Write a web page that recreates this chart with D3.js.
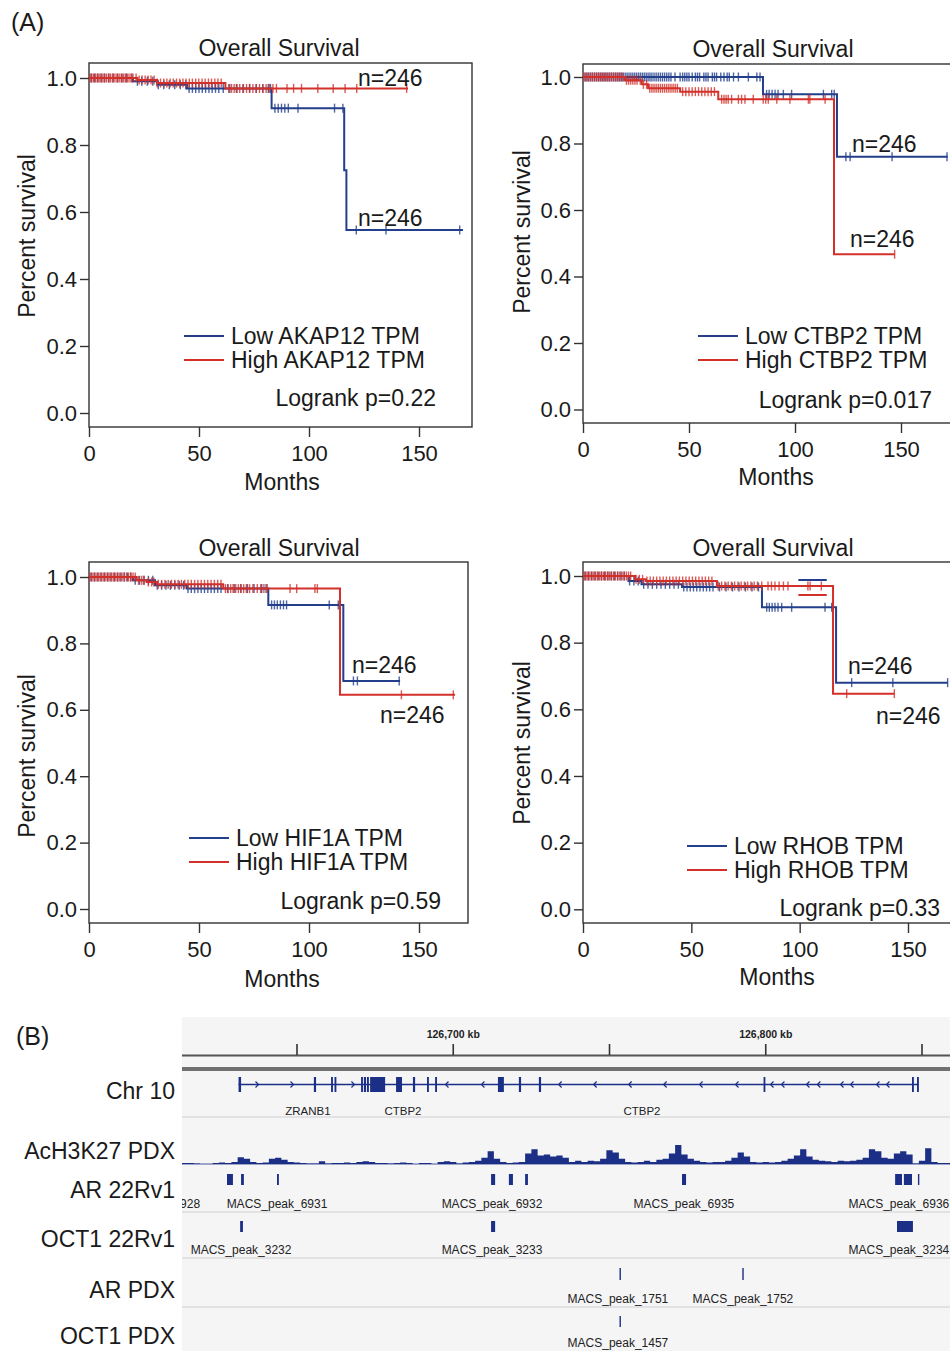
<!DOCTYPE html>
<html>
<head>
<meta charset="utf-8">
<script src="https://cdn.jsdelivr.net/npm/d3@7"></script>
<style>
  body { margin: 0; background: #fff; }
  text { font-family: "Liberation Sans", Arial, Helvetica, sans-serif; }
</style>
</head>
<body>
<div id="fig"></div>
<script>
// ---------- Panel A data (Kaplan-Meier) ----------
// steps: [months, survival]; end: last follow-up month; censor: months of censor marks
var monthTicks = [0, 50, 100, 150];
var survTicks = [0, 0.2, 0.4, 0.6, 0.8, 1.0];
var genes = ["AKAP12", "CTBP2", "HIF1A", "RHOB"];
var pValues = ["0.22", "0.017", "0.59", "0.33"];

var akapLowSteps = [[0, 1], [20, 0.99], [31, 0.98], [44.5, 0.969], [83, 0.91], [116, 0.725], [117, 0.546]];
var akapLowEnd = 170;
var akapLowCensor = [1, 2.5, 4, 5.5, 7, 9, 11, 13, 15, 17, 19.5, 22, 24, 26.5, 29, 31.5, 34, 36.5, 39, 41.5, 44,
  45.5, 47, 48.5, 50, 51.5, 53, 54.5, 56, 57.5, 59, 61, 64, 67, 70, 73, 76, 79, 81.5, 82.5,
  84.5, 86, 87.5, 89, 90.6, 95, 111.6, 115.4, 121.5, 135, 168.5];
var akapHighSteps = [[0, 1], [22, 0.994], [31, 0.985], [62, 0.969]];
var akapHighEnd = 145;
var akapHighCensor = [0.5, 1.3, 2.1, 3, 3.8, 4.6, 5.5, 6.3, 7.2, 8, 8.9, 9.7, 10.6, 11.4, 12.3, 13.1, 14, 14.8,
  15.7, 16.5, 17.4, 18.2, 19.1, 20, 21.4, 22.8, 24.1, 25.5, 26.9, 28.2, 29.6, 31, 32.5, 34, 35.4, 36.9, 38.3,
  39.8, 41.2, 42.7, 44.1, 45.6, 47, 48.5, 49.9, 51.4, 52.8, 54.3, 55.7, 57.2, 58.6, 60.1, 63.5, 64.8, 66,
  67.3, 68.5, 70.2, 71.6, 73, 74.5, 76, 77.5, 79, 80.5, 82, 83.6, 85.2, 90, 93, 96.6, 104, 111, 116.4, 121.7, 144.4];

var ctbpLowSteps = [[0, 1], [84.9, 0.948], [119.8, 0.76]];
var ctbpLowEnd = 172;
var ctbpLowCensor = [1, 1.9, 2.8, 3.7, 4.6, 5.5, 6.4, 7.3, 8.2, 9.1, 10, 10.9, 11.8, 12.7, 13.6, 14.5, 15.4, 16.3,
  17.2, 18.1, 19, 19.9, 20.8, 21.7, 22.6, 23.5, 24.4, 25.3, 26.2, 27.1, 28, 28.9, 29.8, 30.7, 31.6, 32.5, 33.5,
  34.5, 35.5, 36.5, 37.5, 38.5, 39.5, 40.5, 41.5, 43.4, 45.8, 47, 48, 49, 50, 51.5, 53, 54, 55, 57, 58, 59, 61,
  62, 63, 65, 66.5, 68, 69, 71, 73.3, 78, 82, 83.5, 86.6, 87.8, 89.2, 90.6, 92, 94.5, 98.4, 113.4, 117.3, 118.5,
  124, 126, 145.8, 171.7];
var ctbpHighSteps = [[0, 1], [19.8, 0.99], [27.7, 0.978], [30.7, 0.966], [45.8, 0.956], [63.8, 0.933], [118.4, 0.467]];
var ctbpHighEnd = 147;
var ctbpHighCensor = [0.5, 1.5, 2.5, 3.5, 4.5, 5.5, 6.5, 7.5, 8.5, 9.5, 10.5, 11.5, 12.5, 13.5, 14.5, 15.5, 16.5,
  17.5, 18.5, 20.5, 21.5, 22.5, 23.5, 24.5, 25.5, 27, 28.5, 30, 31.5, 32.5, 33.5, 34.5, 35.5, 36.5, 37.5, 38.5,
  39.5, 40.5, 41.5, 42.5, 43.5, 44.5, 47, 48.5, 50, 51.5, 53, 54.5, 56, 57.5, 59, 60.5, 62, 65.4, 66.5, 67.5,
  68.5, 70.1, 73.3, 74.8, 76.4, 80.3, 85, 86.2, 87.4, 91.4, 97.6, 106.3, 107, 114.2, 147];

var hifLowSteps = [[0, 1], [20, 0.99], [30, 0.975], [44.4, 0.965], [81.5, 0.916], [115.6, 0.687]];
var hifLowEnd = 141.4;
var hifLowCensor = [1, 2.5, 4, 5.5, 7, 8.5, 10, 11.5, 13, 14.5, 16, 17.5, 19, 21, 23, 25, 27, 29, 31, 33, 35, 37,
  39, 41, 43, 45, 46.5, 48, 49.5, 51, 52.5, 54, 55.5, 57, 58.5, 60, 63, 66, 69, 72, 75, 78.5, 80.5,
  83, 84.3, 85.6, 87, 88.4, 89.8, 109.2, 113.3, 120.2, 122, 141];
var hifHighSteps = [[0, 1], [21.7, 0.99], [26.2, 0.985], [30.8, 0.978], [61, 0.965], [114.1, 0.645]];
var hifHighEnd = 166.4;
var hifHighCensor = [0.5, 1.4, 2.3, 3.2, 4.1, 5, 5.9, 6.8, 7.7, 8.6, 9.5, 10.4, 11.3, 12.2, 13.1, 14, 15, 16, 17,
  18, 19, 20, 21, 22.5, 24, 25, 27, 28.5, 29.5, 31.5, 33, 34.5, 36, 37.5, 39, 40.5, 42, 43.5, 45, 46.5, 48, 49.5,
  51, 52.5, 54, 55.5, 57, 58.5, 60, 62, 63.2, 64.4, 65.5, 66.7, 67.9, 69.1, 70.3, 71.5, 73, 74.5, 76.5, 78,
  79.5, 81, 91.4, 94.4, 102.7, 103.8, 142, 165.6];

var rhobLowSteps = [[0, 1], [21, 0.985], [27, 0.975], [45.7, 0.967], [82.6, 0.906], [116.8, 0.68]];
var rhobLowEnd = 168.4;
var rhobLowCensor = [1, 2.5, 4, 5.5, 7, 8.5, 10, 11.5, 13, 14.5, 16, 17.5, 19, 21.5, 23.5, 25.5, 28, 30, 32, 34,
  36, 38, 40, 42, 44, 46.5, 48, 49.5, 51, 52.5, 54, 55.5, 57, 58.5, 60, 63, 66, 69, 72, 75, 78, 81,
  84.8, 86, 87.3, 88.6, 90, 91.7, 96.3, 111.7, 114.8, 115.5, 124, 143, 168.3];
var rhobHighSteps = [[0, 1], [24, 0.99], [29, 0.985], [61.8, 0.97], [115.4, 0.647]];
var rhobHighEnd = 143.7;
var rhobHighCensor = [0.5, 1.4, 2.3, 3.2, 4.1, 5, 5.9, 6.8, 7.7, 8.6, 9.5, 10.4, 11.3, 12.2, 13.1, 14, 15, 16,
  17, 18, 19, 20, 21, 22, 24.5, 26, 27.5, 29.5, 31, 32.5, 34, 35.5, 37, 38.5, 40, 41.5, 43, 44.5, 46, 47.5, 49,
  50.5, 52, 53.5, 55, 56.5, 58, 59.5, 62.4, 64, 65.5, 67, 68.5, 70, 71.5, 73, 74.5, 76, 77.5, 79, 80.5, 82.5,
  85.4, 87, 88.6, 90.5, 92.5, 94.6, 103.8, 104.8, 110, 121.7, 143.7];
// stray short segments drawn inside the RHOB plot: [from month, to month, survival]
var rhobLowGhost = [[99.4, 112.5, 0.988]];
var rhobHighGhost = [[99.4, 112.5, 0.943]];

// ---------- Panel B data (genome browser, positions in kb on chr10) ----------
var rulerTicksKb = [126650, 126700, 126750, 126800, 126850];
var rulerLabelKb = [126700, 126800];
var exonsKb = [[126631.3, 126632.1], [126655.4, 126656.1], [126660.9, 126661.5], [126662.0, 126662.6],
  [126670.5, 126671.1], [126671.4, 126672.1], [126672.4, 126673.0], [126673.4, 126678.2], [126681.7, 126683.6],
  [126687.1, 126687.8], [126691.6, 126692.2], [126694.2, 126694.8], [126714.3, 126716.2], [126721.0, 126721.7],
  [126727.4, 126728.1], [126799.3, 126799.8], [126846.8, 126847.4], [126848.4, 126849.0]];
var geneSpanKb = [126631.3, 126849.0];
var fwdArrowsKb = [126637.2, 126648.4, 126667.9];
var revArrowsKb = [126698, 126709.5, 126734.2, 126745.4, 126756.6, 126767.8, 126779.3, 126790.8, 126802,
  126805.5, 126813.5, 126817, 126824.4, 126827.6, 126835.9, 126839.1];
var geneLabels = [["ZRANB1", 126653.5], ["CTBP2", 126683.9], ["CTBP2", 126760.4]];

// AcH3K27 PDX coverage, 2 kb bins from 126613 kb
var covStartKb = 126613;
var covBinKb = 2;
var covValues = [1, 1, 0.5, 0, 0, 1, 1.5, 1, 2, 6.5, 5, 2, 1, 1.5, 5, 6, 4, 2, 1.5, 1, 0.5, 0.5, 2.5, 0.5, 1, 1,
  1.5, 1, 2, 2.5, 2, 1, 1, 0.5, 1, 1.5, 1, 0, 1, 1, 0, 2, 2.5, 2, 0.5, 1.5, 2, 3, 6, 12, 5, 2, 1, 1.5, 2, 10,
  14, 8, 9, 7, 8, 6, 2, 3, 2, 3, 2.5, 5, 13, 11, 5, 2, 1.5, 2, 3, 2, 4, 5, 10, 18, 9, 5, 3, 2, 1.5, 2, 2, 3, 6,
  11, 7, 2, 1.5, 2, 1.5, 2, 3, 5, 8, 14, 7, 4, 3, 2.5, 2, 3, 2.5, 3, 4, 6, 14, 12, 6, 5, 10, 12, 9, 0.5, 3, 15,
  2, 1, 1];

var ar22Peaks = [[126627.6, 126629.5], [126632.1, 126633.0], [126643.6, 126644.2], [126712.1, 126713.4],
  [126717.8, 126719.1], [126723.0, 126723.9], [126773.2, 126774.5], [126841.4, 126843.6], [126844.2, 126846.8],
  [126848.7, 126849.0]];
// the first label is cut by the left edge of the browser view; only its tail shows
var ar22Labels = [["928", 126615.8], ["MACS_peak_6931", 126643.6], ["MACS_peak_6932", 126712.4],
  ["MACS_peak_6935", 126773.8], ["MACS_peak_6936", 126842.6]];
var oct22Peaks = [[126631.8, 126632.7], [126712.1, 126713.4], [126842.0, 126847.1]];
var oct22Labels = [["MACS_peak_3232", 126632.1], ["MACS_peak_3233", 126712.4], ["MACS_peak_3234", 126842.6]];
var arPdxPeaks = [[126753.2, 126753.6], [126792.5, 126792.9]];
var arPdxLabels = [["MACS_peak_1751", 126752.7], ["MACS_peak_1752", 126792.7]];
var octPdxPeaks = [[126753.2, 126753.6]];
var octPdxLabels = [["MACS_peak_1457", 126752.7]];

// ---------- drawing ----------
var blue = "#233f8c", red = "#d3302a", ink = "#1a1a1a";

var svg = d3.select("#fig").append("svg")
  .attr("width", 950)
  .attr("height", 1351);

svg.append("text").attr("x", 11).attr("y", 31).attr("font-size", 25).attr("fill", ink).text("(A)");
svg.append("text").attr("x", 16).attr("y", 1045).attr("font-size", 25).attr("fill", ink).text("(B)");

function survAt(steps, t) {
  var s = steps[0][1];
  steps.forEach(function(d) { if (d[0] <= t) s = d[1]; });
  return s;
}

var panels = [
  { low: [akapLowSteps, akapLowEnd, akapLowCensor], high: [akapHighSteps, akapHighEnd, akapHighCensor],
    x0: 89, x150: 419, y0: 413, y1: 78, top: 63, bottom: 427, right: 472,
    titleX: 279, titleY: 56, ylabX: 35, ylabY: 236, monX: 282, monY: 490,
    legX: 184, legY: 336, pX: 436, pY: 406, nLow: [358, 226], nHigh: [358, 86] },
  { low: [ctbpLowSteps, ctbpLowEnd, ctbpLowCensor], high: [ctbpHighSteps, ctbpHighEnd, ctbpHighCensor],
    x0: 583, x150: 901, y0: 409.5, y1: 77, top: 64, bottom: 423, right: 965,
    titleX: 773, titleY: 57, ylabX: 530, ylabY: 232, monX: 776, monY: 485,
    legX: 698, legY: 336, pX: 932, pY: 408, nLow: [852, 152], nHigh: [850, 247] },
  { low: [hifLowSteps, hifLowEnd, hifLowCensor], high: [hifHighSteps, hifHighEnd, hifHighCensor],
    x0: 89, x150: 419, y0: 909, y1: 577, top: 562, bottom: 923, right: 468,
    titleX: 279, titleY: 556, ylabX: 35, ylabY: 756, monX: 282, monY: 987,
    legX: 189, legY: 838, pX: 441, pY: 909, nLow: [352, 673], nHigh: [380, 723] },
  { low: [rhobLowSteps, rhobLowEnd, rhobLowCensor], high: [rhobHighSteps, rhobHighEnd, rhobHighCensor],
    lowGhost: rhobLowGhost, highGhost: rhobHighGhost,
    x0: 583, x150: 908, y0: 909.3, y1: 576, top: 562, bottom: 923, right: 965,
    titleX: 773, titleY: 556, ylabX: 530, ylabY: 743, monX: 777, monY: 985,
    legX: 687, legY: 846, pX: 940, pY: 916, nLow: [848, 674], nHigh: [876, 724] }
];

panels.forEach(function(p, i) {
  var x = d3.scaleLinear().domain([0, 150]).range([p.x0, p.x150]);
  var y = d3.scaleLinear().domain([0, 1]).range([p.y0, p.y1]);
  var g = svg.append("g");

  g.append("text")
    .attr("x", p.titleX).attr("y", p.titleY)
    .attr("text-anchor", "middle").attr("font-size", 23).attr("fill", ink)
    .text("Overall Survival");

  g.append("rect")
    .attr("x", p.x0).attr("y", p.top)
    .attr("width", p.right - p.x0).attr("height", p.bottom - p.top)
    .attr("fill", "none").attr("stroke", "#333").attr("stroke-width", 1.4);

  var yAxis = g.append("g")
    .attr("transform", `translate(${p.x0},0)`)
    .call(d3.axisLeft(y).tickValues(survTicks).tickFormat(d3.format(".1f")).tickSize(9).tickPadding(3));
  var xAxis = g.append("g")
    .attr("transform", `translate(0,${p.bottom})`)
    .call(d3.axisBottom(x).tickValues(monthTicks).tickSize(10).tickPadding(8));
  [yAxis, xAxis].forEach(function(a) {
    a.select(".domain").remove();
    a.selectAll("line").attr("stroke", "#333").attr("stroke-width", 1.4);
    a.selectAll("text").attr("font-size", 22).attr("fill", ink)
      .style("font-family", '"Liberation Sans", Arial, sans-serif');
  });

  g.append("text")
    .attr("transform", `translate(${p.ylabX},${p.ylabY}) rotate(-90)`)
    .attr("text-anchor", "middle").attr("font-size", 23).attr("fill", ink)
    .text("Percent survival");
  g.append("text")
    .attr("x", p.monX).attr("y", p.monY)
    .attr("text-anchor", "middle").attr("font-size", 23).attr("fill", ink)
    .text("Months");

  var line = d3.line()
    .x(function(d) { return x(d[0]); })
    .y(function(d) { return y(d[1]); })
    .curve(d3.curveStepAfter);

  [[p.low, blue, p.lowGhost], [p.high, red, p.highGhost]].forEach(function(c) {
    var steps = c[0][0], end = c[0][1], censor = c[0][2], col = c[1];
    var pts = steps.concat([[end, steps[steps.length - 1][1]]]);
    g.append("path")
      .attr("d", line(pts))
      .attr("fill", "none").attr("stroke", col).attr("stroke-width", 2);
    g.selectAll(null)
      .data(censor)
      .enter()
      .append("line")
      .attr("x1", function(t) { return x(t); })
      .attr("x2", function(t) { return x(t); })
      .attr("y1", function(t) { return y(survAt(steps, t)) - 4.5; })
      .attr("y2", function(t) { return y(survAt(steps, t)) + 4.5; })
      .attr("stroke", col).attr("stroke-width", 1.4).attr("opacity", 0.8);
    if (c[2]) {
      g.selectAll(null)
        .data(c[2])
        .enter()
        .append("line")
        .attr("x1", function(d) { return x(d[0]); })
        .attr("x2", function(d) { return x(d[1]); })
        .attr("y1", function(d) { return y(d[2]); })
        .attr("y2", function(d) { return y(d[2]); })
        .attr("stroke", col).attr("stroke-width", 2);
    }
  });

  g.append("text").attr("x", p.nHigh[0]).attr("y", p.nHigh[1])
    .attr("font-size", 23).attr("fill", ink).text("n=246");
  g.append("text").attr("x", p.nLow[0]).attr("y", p.nLow[1])
    .attr("font-size", 23).attr("fill", ink).text("n=246");

  // legend
  [["Low " + genes[i] + " TPM", blue], ["High " + genes[i] + " TPM", red]].forEach(function(l, k) {
    var ly = p.legY + k * 24;
    g.append("line")
      .attr("x1", p.legX).attr("x2", p.legX + 40)
      .attr("y1", ly).attr("y2", ly)
      .attr("stroke", l[1]).attr("stroke-width", 2.2);
    g.append("text")
      .attr("x", p.legX + 47).attr("y", ly + 8)
      .attr("font-size", 23).attr("fill", ink).text(l[0]);
  });

  g.append("text")
    .attr("x", p.pX).attr("y", p.pY)
    .attr("text-anchor", "end").attr("font-size", 23).attr("fill", ink)
    .text("Logrank p=" + pValues[i]);
});

// ---------- Panel B ----------
var gx = d3.scaleLinear().domain([126650, 126850]).range([297, 922]);
var navy = "#1c2f87";

svg.append("clipPath").attr("id", "igvclip")
  .append("rect").attr("x", 182).attr("y", 1017).attr("width", 768).attr("height", 334);

var igv = svg.append("g").attr("clip-path", "url(#igvclip)");

igv.append("rect")
  .attr("x", 182).attr("y", 1017).attr("width", 768).attr("height", 334)
  .attr("fill", "#f5f5f6");

// ruler
igv.append("line").attr("x1", 182).attr("x2", 950).attr("y1", 1055.5).attr("y2", 1055.5)
  .attr("stroke", "#555").attr("stroke-width", 2);
igv.selectAll(null).data(rulerTicksKb).enter().append("line")
  .attr("x1", function(d) { return gx(d); }).attr("x2", function(d) { return gx(d); })
  .attr("y1", 1044).attr("y2", 1055)
  .attr("stroke", "#333").attr("stroke-width", 1.6);
igv.selectAll(null).data(rulerLabelKb).enter().append("text")
  .attr("x", function(d) { return gx(d); }).attr("y", 1038)
  .attr("text-anchor", "middle").attr("font-size", 10.5).attr("font-weight", "bold").attr("fill", "#222")
  .text(function(d) { return d3.format(",")(d) + " kb"; });
igv.append("rect").attr("x", 182).attr("y", 1067).attr("width", 768).attr("height", 4)
  .attr("fill", "#707070");

// gene track
igv.append("line")
  .attr("x1", gx(geneSpanKb[0])).attr("x2", gx(geneSpanKb[1]))
  .attr("y1", 1084.5).attr("y2", 1084.5)
  .attr("stroke", navy).attr("stroke-width", 1.5);
igv.selectAll(null).data(exonsKb).enter().append("rect")
  .attr("x", function(d) { return gx(d[0]); })
  .attr("width", function(d) { return Math.max(1.8, gx(d[1]) - gx(d[0])); })
  .attr("y", 1077).attr("height", 15)
  .attr("fill", navy);
igv.selectAll(null).data(fwdArrowsKb).enter().append("path")
  .attr("d", function(d) { var ax = gx(d); return `M${ax - 1.5},${1081.5}L${ax + 1.5},${1084.5}L${ax - 1.5},${1087.5}`; })
  .attr("fill", "none").attr("stroke", navy).attr("stroke-width", 1.2);
igv.selectAll(null).data(revArrowsKb).enter().append("path")
  .attr("d", function(d) { var ax = gx(d); return `M${ax + 1.5},${1081.5}L${ax - 1.5},${1084.5}L${ax + 1.5},${1087.5}`; })
  .attr("fill", "none").attr("stroke", navy).attr("stroke-width", 1.2);
igv.selectAll(null).data(geneLabels).enter().append("text")
  .attr("x", function(d) { return gx(d[1]); }).attr("y", 1115)
  .attr("text-anchor", "middle").attr("font-size", 11.5).attr("fill", "#222")
  .text(function(d) { return d[0]; });

// separators
igv.selectAll(null).data([1117, 1212, 1258, 1307]).enter().append("line")
  .attr("x1", 182).attr("x2", 950)
  .attr("y1", function(d) { return d; }).attr("y2", function(d) { return d; })
  .attr("stroke", "#cfcfd2").attr("stroke-width", 1.2);

// coverage track
var covY = d3.scaleLinear().domain([0, 18]).range([1164, 1145]);
var covPts = covValues.map(function(v, k) { return [covStartKb + k * covBinKb, v]; });
covPts.push([covStartKb + covValues.length * covBinKb, covValues[covValues.length - 1]]);
igv.append("path")
  .attr("d", d3.area()
    .x(function(d) { return gx(d[0]); })
    .y0(covY(0))
    .y1(function(d) { return covY(d[1]); })
    .curve(d3.curveStepAfter)(covPts))
  .attr("fill", navy);
igv.append("line").attr("x1", 182).attr("x2", 950).attr("y1", 1164).attr("y2", 1164)
  .attr("stroke", navy).attr("stroke-width", 0.8);

// peak tracks
function peakTrack(peaks, labels, y0, h, labelY) {
  igv.selectAll(null).data(peaks).enter().append("rect")
    .attr("x", function(d) { return gx(d[0]); })
    .attr("width", function(d) { return Math.max(1.4, gx(d[1]) - gx(d[0])); })
    .attr("y", y0).attr("height", h)
    .attr("fill", navy);
  igv.selectAll(null).data(labels).enter().append("text")
    .attr("x", function(d) { return gx(d[1]); }).attr("y", labelY)
    .attr("text-anchor", "middle").attr("font-size", 12).attr("fill", "#222")
    .text(function(d) { return d[0]; });
}
peakTrack(ar22Peaks, ar22Labels, 1174, 11, 1208);
peakTrack(oct22Peaks, oct22Labels, 1221, 11, 1254);
peakTrack(arPdxPeaks, arPdxLabels, 1268, 12, 1303);
peakTrack(octPdxPeaks, octPdxLabels, 1316, 11, 1347);

// track names
var trackNames = [["Chr 10", 1099], ["AcH3K27 PDX", 1159], ["AR 22Rv1", 1198], ["OCT1 22Rv1", 1247],
  ["AR PDX", 1298], ["OCT1 PDX", 1344]];
svg.selectAll(null).data(trackNames).enter().append("text")
  .attr("x", 175).attr("y", function(d) { return d[1]; })
  .attr("text-anchor", "end").attr("font-size", 23).attr("fill", ink)
  .text(function(d) { return d[0]; });
</script>
</body>
</html>
